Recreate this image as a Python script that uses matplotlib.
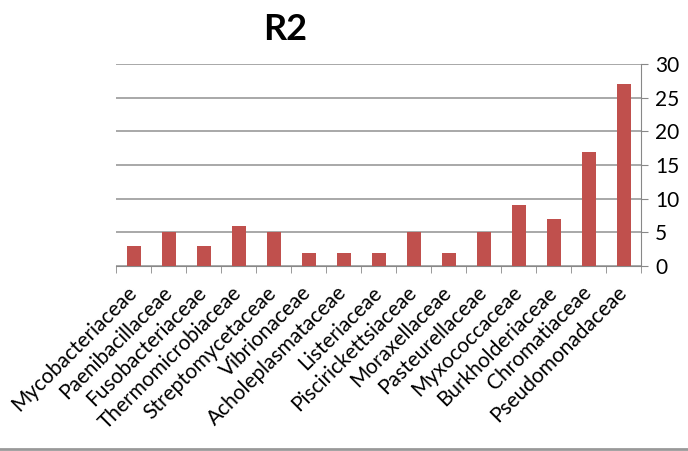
import matplotlib
matplotlib.use('Agg')
import matplotlib.pyplot as plt
from matplotlib.lines import Line2D
import numpy as np

families = ['Mycobacteriaceae', 'Paenibacillaceae', 'Fusobacteriaceae', 'Thermomicrobiaceae',
            'Streptomycetaceae', 'Vibrionaceae', 'Acholeplasmataceae', 'Listeriaceae',
            'Piscirickettsiaceae', 'Moraxellaceae', 'Pasteurellaceae', 'Myxococcaceae',
            'Burkholderiaceae', 'Chromatiaceae', 'Pseudomonadaceae']
counts = [3, 5, 3, 6, 5, 2, 2, 2, 5, 2, 5, 9, 7, 17, 27]
yticks = [0, 5, 10, 15, 20, 25, 30]

plt.rcParams['font.family'] = ['Lato', 'DejaVu Sans']

fig = plt.figure(figsize=(6.88, 4.51), dpi=100)
ax = fig.add_axes([116 / 688, 1 - 266 / 451, (641 - 116) / 688, (266 - 64) / 451])

x = np.arange(len(families))
ax.bar(x, counts, width=0.4, color='#C0504D', zorder=3)

ax.set_xlim(-0.5, len(families) - 0.5)
ax.set_ylim(0, 30)
ax.yaxis.tick_right()
ax.set_yticks(yticks)
ax.tick_params(axis='y', length=5, color='#888888', labelsize=15, pad=5)
ax.grid(axis='y', color='#999999', linewidth=1.2, zorder=0)

ax.set_xticks(x)
ax.set_xticklabels(families, rotation=45, ha='right', va='center',
                   rotation_mode='anchor', fontsize=15)
ax.tick_params(axis='x', which='major', length=0, pad=17)
ax.set_xticks(np.arange(-0.5, len(families), 1), minor=True)
ax.tick_params(axis='x', which='minor', length=5, color='#888888')

for s in ['top', 'left']:
    ax.spines[s].set_visible(False)
for s in ['bottom', 'right']:
    ax.spines[s].set_color('#888888')

fig.text(285 / 688, 1 - 30 / 451, 'R2', fontsize=26, fontweight='bold', ha='center', va='center')

fig.add_artist(Line2D([0, 1], [1 - 449 / 451, 1 - 449 / 451], color='#999999', linewidth=2))

fig.savefig('out.png', dpi=100)
